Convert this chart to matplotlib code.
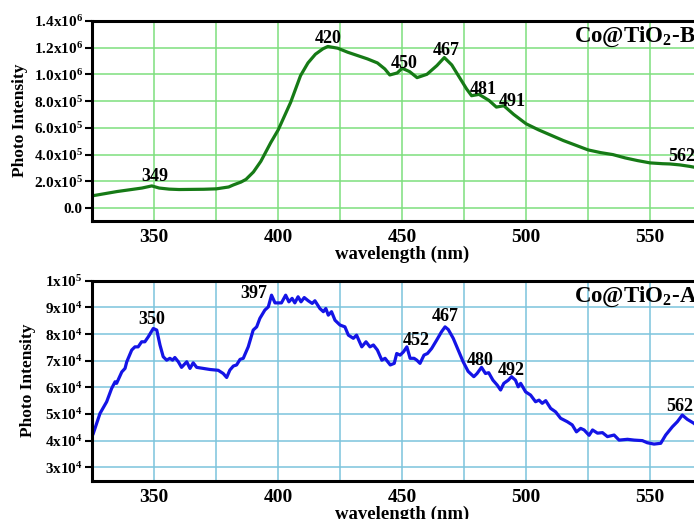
import matplotlib
matplotlib.use('Agg')
import matplotlib.pyplot as plt
from matplotlib.ticker import MultipleLocator, FixedLocator, FixedFormatter

plt.rcParams['font.family'] = ['Liberation Serif', 'DejaVu Serif']
plt.rcParams['font.weight'] = 'bold'
plt.rcParams['mathtext.fontset'] = 'custom'
plt.rcParams['mathtext.rm'] = 'Liberation Serif:bold'
plt.rcParams['mathtext.bf'] = 'Liberation Serif:bold'
plt.rcParams['mathtext.it'] = 'Liberation Serif:bold'
plt.rcParams['mathtext.default'] = 'bf'

# Co@TiO2-B spectrum (green)
wl_b = [325, 330, 335, 340, 345, 349, 352, 356, 360, 365, 370, 375, 380, 382,
        385, 387, 390, 393, 397, 400, 405, 409, 412, 415, 418, 420, 424, 428, 432,
        436, 440, 443, 445, 448, 450, 453, 456, 460, 464, 467, 470, 473, 476,
        478, 481, 485, 488, 491, 495, 500, 505, 510, 515, 520, 525, 530, 535,
        540, 545, 550, 555, 558, 562, 566, 570, 575]
int_b = [0.092e6, 0.108e6, 0.124e6, 0.137e6, 0.150e6, 0.166e6, 0.150e6, 0.142e6,
         0.139e6, 0.140e6, 0.141e6, 0.144e6, 0.158e6, 0.174e6, 0.195e6, 0.215e6,
         0.270e6, 0.350e6, 0.490e6, 0.585e6, 0.790e6, 0.990e6, 1.085e6, 1.150e6, 1.190e6,
         1.208e6, 1.195e6, 1.165e6, 1.140e6, 1.115e6, 1.085e6, 1.040e6, 0.995e6,
         1.010e6, 1.045e6, 1.020e6, 0.975e6, 1.000e6, 1.065e6, 1.125e6, 1.070e6,
         0.980e6, 0.890e6, 0.840e6, 0.850e6, 0.805e6, 0.755e6, 0.765e6, 0.700e6,
         0.630e6, 0.585e6, 0.545e6, 0.505e6, 0.470e6, 0.435e6, 0.415e6, 0.400e6,
         0.375e6, 0.355e6, 0.338e6, 0.332e6, 0.330e6, 0.323e6, 0.312e6, 0.298e6,
         0.285e6]

# Co@TiO2-A spectrum (blue)
wl_a = [325.4, 328.1, 330.8, 332.8, 334.2, 334.8, 336.9, 338.2, 338.9, 340.9,
        342.2, 343.5, 344.9, 346.2, 347.6, 349.6, 351.0, 352.3, 353.6, 355.0,
        356.3, 357.4, 358.3, 359.7, 361.0, 363.1, 364.4, 365.7, 367.1, 369.8,
        372.5, 375.8, 377.8, 379.2, 380.5, 381.9, 383.2, 384.6, 385.9, 387.9,
        389.9, 391.3, 392.6, 394.6, 396.0, 397.3, 398.7, 401.3, 403.0, 404.3,
        405.6, 406.7, 408.0, 409.2, 410.5, 412.1, 413.7, 414.8, 416.8, 418.2,
        419.2, 420.2, 421.5, 422.9, 424.9, 426.9, 428.3, 430.3, 431.6, 433.7,
        435.4, 437.0, 438.4, 440.0, 441.8, 443.1, 445.2, 446.8, 447.8, 449.2,
        450.5, 451.9, 453.2, 454.8, 455.9, 457.2, 458.8, 460.2, 461.9, 463.9,
        465.9, 467.3, 468.6, 470.6, 472.6, 474.6, 476.6, 478.9, 480.2, 482.0,
        483.6, 484.9, 486.6, 488.3, 489.7, 491.0, 492.8, 494.1, 495.7, 496.8,
        497.8, 499.8, 501.8, 503.8, 505.2, 506.5, 507.9, 509.9, 511.9, 513.9,
        516.6, 518.6, 520.3, 522.0, 523.4, 525.4, 526.8, 528.8, 530.8, 532.8,
        535.5, 537.5, 540.9, 543.6, 546.9, 548.9, 551.6, 554.3, 556.3, 559.0,
        561.0, 563.0, 565.0, 567.7, 569.3, 572.0, 575.0]
int_a = [4.27e4, 5.02e4, 5.46e4, 5.96e4, 6.21e4, 6.15e4, 6.58e4, 6.71e4, 6.96e4, 7.40e4,
         7.52e4, 7.52e4, 7.71e4, 7.71e4, 7.90e4, 8.21e4, 8.15e4, 7.59e4, 7.15e4, 7.02e4,
         7.09e4, 7.02e4, 7.12e4, 6.96e4, 6.75e4, 6.96e4, 6.71e4, 6.92e4, 6.75e4, 6.71e4,
         6.67e4, 6.64e4, 6.52e4, 6.37e4, 6.65e4, 6.80e4, 6.84e4, 7.05e4, 7.09e4, 7.52e4,
         8.15e4, 8.27e4, 8.59e4, 8.90e4, 9.02e4, 9.46e4, 9.17e4, 9.17e4, 9.46e4, 9.21e4,
         9.34e4, 9.17e4, 9.40e4, 9.21e4, 9.37e4, 9.25e4, 9.15e4, 9.25e4, 8.96e4, 8.84e4,
         8.96e4, 8.71e4, 8.84e4, 8.52e4, 8.34e4, 8.27e4, 7.96e4, 7.84e4, 7.96e4, 7.52e4,
         7.71e4, 7.52e4, 7.59e4, 7.40e4, 7.02e4, 7.09e4, 6.84e4, 6.90e4, 7.27e4, 7.21e4,
         7.33e4, 7.52e4, 7.09e4, 7.09e4, 7.02e4, 6.90e4, 7.21e4, 7.27e4, 7.46e4, 7.77e4,
         8.09e4, 8.27e4, 8.17e4, 7.84e4, 7.40e4, 6.96e4, 6.60e4, 6.40e4, 6.52e4, 6.75e4,
         6.52e4, 6.55e4, 6.27e4, 6.09e4, 5.90e4, 6.15e4, 6.27e4, 6.40e4, 6.27e4, 6.02e4,
         6.15e4, 5.83e4, 5.71e4, 5.46e4, 5.52e4, 5.40e4, 5.50e4, 5.21e4, 5.08e4, 4.84e4,
         4.71e4, 4.59e4, 4.33e4, 4.46e4, 4.40e4, 4.20e4, 4.40e4, 4.28e4, 4.30e4, 4.15e4,
         4.21e4, 4.02e4, 4.05e4, 4.02e4, 4.00e4, 3.92e4, 3.87e4, 3.90e4, 4.21e4, 4.52e4,
         4.71e4, 4.96e4, 4.80e4, 4.65e4, 4.52e4, 4.38e4, 4.20e4]

# peak labels: (text, x, y)
peaks_b = [('349', 350.3, 0.234e6), ('420', 420.0, 1.27e6), ('450', 451.0, 1.084e6),
           ('467', 467.6, 1.18e6), ('481', 482.7, 0.89e6), ('491', 494.5, 0.80e6),
           ('562', 562.7, 0.385e6)]
peaks_a = [('350', 349.0, 8.55e4), ('397', 390.2, 9.52e4), ('452', 455.5, 7.77e4),
           ('467', 467.2, 8.65e4), ('480', 481.3, 7.02e4), ('492', 494.1, 6.65e4),
           ('562', 562.0, 5.27e4)]

yticks_b = [0, 0.2e6, 0.4e6, 0.6e6, 0.8e6, 1.0e6, 1.2e6, 1.4e6]
ylabels_b = ['0.0', r'2.0x10$^{5}$', r'4.0x10$^{5}$', r'6.0x10$^{5}$', r'8.0x10$^{5}$',
             r'1.0x10$^{6}$', r'1.2x10$^{6}$', r'1.4x10$^{6}$']
yticks_a = [3e4, 4e4, 5e4, 6e4, 7e4, 8e4, 9e4, 1e5]
ylabels_a = [r'3x10$^{4}$', r'4x10$^{4}$', r'5x10$^{4}$', r'6x10$^{4}$', r'7x10$^{4}$',
             r'8x10$^{4}$', r'9x10$^{4}$', r'1x10$^{5}$']

fig = plt.figure(figsize=(6.94, 5.19), dpi=100)
ax1 = fig.add_axes([0.133, 0.575, 0.893, 0.385])
ax2 = fig.add_axes([0.133, 0.074, 0.893, 0.385])


def style(ax, grid_color, yticks, ylabels, ylim, name, name_y, ylabelpad):
    ax.set_xlim(325, 575)
    ax.set_ylim(*ylim)
    ax.xaxis.set_major_locator(MultipleLocator(50))
    ax.xaxis.set_minor_locator(MultipleLocator(25))
    ax.yaxis.set_major_locator(FixedLocator(yticks))
    ax.yaxis.set_major_formatter(FixedFormatter(ylabels))
    ax.grid(True, which='both', axis='x', color=grid_color, lw=1.1)
    ax.grid(True, which='major', axis='y', color=grid_color, lw=1.1)
    ax.set_axisbelow(True)
    for s in ax.spines.values():
        s.set_linewidth(2.2)
    ax.tick_params(axis='x', which='both', length=0, pad=6, labelsize=14)
    ax.tick_params(axis='y', length=5, width=1.5, pad=2, labelsize=11)
    ax.set_xlabel('wavelength (nm)', fontsize=13.5, fontweight='bold', labelpad=0)
    ax.set_ylabel('Photo Intensity', fontsize=12.5, fontweight='bold', labelpad=ylabelpad)
    ax.text(519.3, name_y, name, fontsize=16.5, fontweight='bold', ha='left', va='center')


ax1.plot(wl_b, int_b, color='#167a16', lw=2.3)
style(ax1, '#7ddf7d', yticks_b, ylabels_b, (-0.093e6, 1.4e6), r'Co@TiO$_{2}$-B', 1.28e6, 4)
for t, x, y in peaks_b:
    ax1.text(x, y, t, fontsize=13, fontweight='bold', ha='center', va='center')

ax2.plot(wl_a, int_a, color='#1414e6', lw=2.3)
style(ax2, '#7cc4dc', yticks_a, ylabels_a, (2.5e4, 1e5), r'Co@TiO$_{2}$-A', 9.4e4, 6)
for t, x, y in peaks_a:
    ax2.text(x, y, t, fontsize=13, fontweight='bold', ha='center', va='center')

fig.savefig('out.png', dpi=100)
